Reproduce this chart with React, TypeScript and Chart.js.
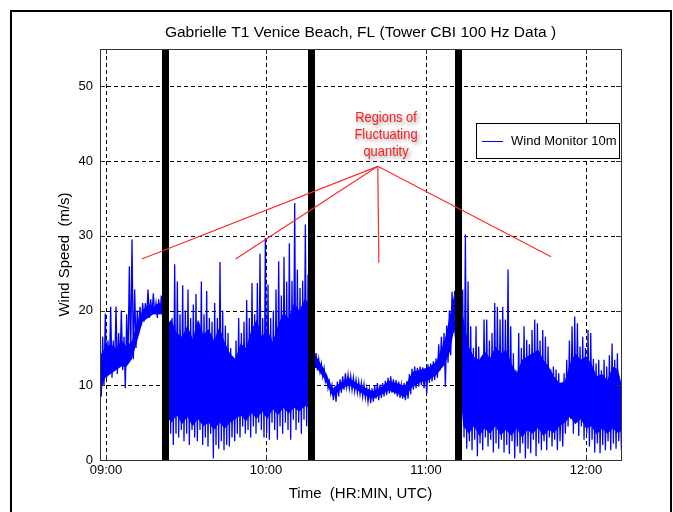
import React, { useEffect, useRef } from 'react';
import { Chart, registerables } from 'chart.js';

Chart.register(...registerables);

// ---------- text ----------
const chartTitle = 'Gabrielle T1 Venice Beach, FL (Tower CBI 100 Hz Data )';
const xAxisTitle = 'Time  (HR:MIN, UTC)';
const yAxisTitle = 'Wind Speed  (m/s)';
const seriesLabel = 'Wind Monitor 10m';
const annotationLines = ['Regions of', 'Fluctuating', 'quantity'];

// ---------- axes (x in minutes after 09:00 UTC, y in m/s) ----------
const xTickMinutes = [0, 60, 120, 180];
const xTickLabels = ['09:00', '10:00', '11:00', '12:00'];
const yTickValues = [0, 10, 20, 30, 40, 50];
const xMin = -2.25;
const xMax = 193.1;
const yMin = 0;
const yMax = 55;

// ---------- data: per-minute max / min of the 100 Hz record ----------
const firstMinute = -2.25;
// 08:58 - 09:21
const hiA = [15, 16.5, 19.6, 16, 20.5, 16, 20.5, 17, 20, 16.5, 19.5, 25.9, 29.5, 22.8, 20, 20.5, 21, 21, 22.8, 21.5, 22.3, 21, 21.5, 22];
const loA = [8.5, 10, 11, 11.5, 11, 12, 11.5, 12.5, 12, 9.6, 13, 13.5, 13.5, 15, 17, 18, 18.5, 19, 19, 19.5, 19.5, 19, 19.5, 19];
// 09:22 - 10:18
const hiB = [22, 20, 18, 19, 26.2, 23.9, 19.5, 23.4, 20, 22.8, 19, 20.8, 22.2, 18.5, 23.9, 19.5, 22.6, 19, 18.5, 21,
  19, 26.5, 20, 18, 17, 15, 13.5, 16, 19, 17, 18.5, 21.4, 19, 23.7, 19.5, 23.7, 27.6, 19, 29.7, 23.5,
  19, 20, 22.8, 26.6, 22, 27.2, 23.9, 29, 24, 34.4, 25.5, 23, 24, 31.5, 24.8, 16, 14.5];
const loB = [18, 6, 3.5, 2, 3.5, 3, 4, 2.5, 3.5, 2, 4, 3, 2.5, 4, 2, 3, 1.8, 3.5, 0.2, 2,
  1.5, 2.5, 1.3, 2, 1.8, 3, 2.5, 3.5, 3, 4.5, 3.5, 4, 3, 4.5, 3.5, 5, 4, 3, 3.5, 2.7,
  5, 4, 2.7, 4.5, 3.5, 5, 4, 2.7, 5.4, 4, 5, 3.5, 5.4, 4.5, 5, 12, 12.5];
// 10:19 - 11:13
const hiC = [14.3, 13.5, 12.9, 12.3, 11.2, 10.5, 10, 9.8, 10.5, 10.8, 11.2, 11.6, 11.4, 11.2, 11, 10.7, 10.5, 10.3, 10.1, 9.6,
  9.4, 9.6, 10, 10.3, 10.1, 10.3, 10.6, 11, 11.2, 10.8, 10.7, 10.5, 10, 10.3, 10.5, 11.5, 12.2, 12.5, 12.3, 12.5,
  12.4, 12.2, 12.8, 12.9, 13.2, 13.6, 15.5, 16.5, 17, 18, 20, 22.5, 22.6, 22, 24];
const loC = [12, 11.8, 11.2, 10.5, 9.6, 8.9, 8, 7.8, 8.5, 9, 9.4, 9.8, 9.6, 9.4, 9.2, 9, 8.8, 8.5, 8.3, 7.8,
  7.6, 7.8, 8.2, 8, 8.3, 8.5, 8.7, 8.9, 9, 8.8, 8.5, 8.3, 8.2, 8, 8.2, 8.8, 9.4, 9.6, 9.8, 10,
  9.6, 8.9, 10.3, 10.5, 10.7, 11, 12, 12.5, 9.8, 13, 14, 17, 18.5, 5, 3];
// 11:14 - 12:13
const hiD = [22.8, 30.2, 23.9, 17.9, 15, 17.9, 15.2, 13.8, 18.8, 18.8, 16, 17, 21, 20.5, 18.8, 20.5, 18.8, 25.5, 17.9, 14.3,
  12, 17, 15, 17.9, 16.1, 15.5, 17.4, 18.8, 18.3, 16, 17.4, 16.5, 15.2, 12.1, 12.5, 12.1, 11.6, 10.3, 11.6, 13.4,
  16, 17.9, 19.2, 18.3, 15.2, 16.5, 15, 17.4, 17, 13.5, 12.9, 13.4, 12, 13.4, 12.5, 14, 15.6, 13.4, 14.3, 9.4];
const loD = [3, 1.5, 2.5, 1.3, 2.7, 0.5, 2.2, 1.3, 3, 1.8, 2.7, 1, 2.2, 1.5, 2.7, 1, 2, 0.8, 2.5, 0.2,
  1.8, 0.9, 2.2, 0.2, 1.5, 0.9, 2.7, 0.5, 2.2, 1.3, 2.5, 1.3, 3, 1.8, 2.7, 1.3, 2.5, 1.8, 3.5, 4.5,
  5.5, 3.5, 5, 3.2, 4.5, 2.7, 3.5, 1.8, 2.7, 1, 2.2, 0.9, 2, 1.3, 2.5, 1.3, 2.2, 1.5, 2.5, 1.3];

// ---------- dense core of the trace (range holding nearly every sample) ----------
const coreMinA = [-2.25, -0.25, 1.75, 3.75, 5.75, 7.75, 9.75, 11.75, 13.75, 15.75, 17.75, 19.75, 21.5];
const coreTopA = [14, 15, 15.5, 15, 16, 15.2, 16, 18.5, 20, 20.8, 20.5, 21, 21];
const coreBotA = [9, 11, 11.5, 12, 12.5, 12.5, 13.5, 16, 18.5, 19, 19.5, 19.5, 19.5];

const coreMinB = [22.5, 24.5, 26.5, 28.5, 30.5, 32.5, 34.5, 36.5, 38.5, 40.5, 42.5, 44.5, 46.5, 48.5,
  50.5, 52.5, 54.5, 56.5, 58.5, 60.5, 62.5, 64.5, 66.5, 68.5, 70.5, 72.5, 74.5, 76.5];
const coreTopB = [18, 18.8, 17, 16.5, 18, 16.2, 18.8, 16.8, 17.5, 16, 17.8, 15.8, 14.3, 13.5,
  15.6, 15, 17.4, 18.8, 16.5, 17.5, 15.8, 18, 19.7, 19, 21, 20, 21.5, 21];
const coreBotB = [6, 5, 6, 4.8, 5.8, 4.5, 5.5, 4.5, 5, 4, 5, 4.2, 5, 5.5,
  6, 5.2, 6.3, 5.5, 6.5, 5.5, 6.8, 6, 7, 6.2, 7, 6.5, 7.2, 7];

const coreMinC = [77.5, 79, 82, 85, 88, 91, 94, 97, 100, 103, 106, 109, 112, 115, 118, 121, 124, 127, 129, 130.5];
const coreTopC = [13.8, 13.8, 12, 9.6, 10.4, 11, 10.3, 9.7, 9.2, 9.7, 10.6, 10.3, 9.9, 11.8, 12.1, 12.4, 13.2, 16, 19.5, 22];
const coreBotC = [12.3, 12.3, 10.8, 8.5, 9.4, 10, 9.4, 8.7, 8.2, 8.7, 9.3, 8.9, 8.4, 9.8, 10.4, 10.7, 11.4, 12.8, 14.5, 17.5];

const coreMinD = [134, 136, 138, 140, 142, 144, 146, 148, 150, 152, 154, 156, 158, 160, 162, 164, 166, 168, 170, 172,
  174, 176, 178, 180, 182, 184, 186, 188, 190, 192, 193.5];
const coreTopD = [19, 15.2, 13.8, 13.4, 14.6, 13.6, 15.2, 14.3, 14.8, 12.9, 11.6, 13.4, 13.9, 14.3, 14.8, 13.4, 12.5, 11.2, 10.3, 10.5,
  12.9, 14.3, 13.4, 13.9, 12.9, 11.2, 11.5, 10.7, 12.5, 12.1, 9.8];
const coreBotD = [4.5, 3.5, 4.5, 3.2, 4.2, 3.5, 4.5, 3.3, 4, 3.2, 4.2, 3, 4, 3.5, 4.3, 3.2, 4, 3.6, 4.5, 5,
  5.8, 4.8, 5.5, 4.2, 4.5, 3.4, 4.2, 3.5, 4.2, 3.6, 4];

// ---------- annotations (data coordinates) ----------
const boundaryMinutes = [22.3, 77.1, 132.2];
const annotationApex = { x: 101.9, y: 39.3 };
const annotationTargets = [
  { x: 13.4, y: 26.9 },
  { x: 48.6, y: 26.9 },
  { x: 102.3, y: 26.4 },
  { x: 166.9, y: 27.2 },
];
const annotationTextAnchor = { x: 105, y: 45.8 };

const hiValues = [...hiA, ...hiB, ...hiC, ...hiD];
const loValues = [...loA, ...loB, ...loC, ...loD];
const coreMinutes = [...coreMinA, ...coreMinB, ...coreMinC, ...coreMinD];
const coreTop = [...coreTopA, ...coreTopB, ...coreTopC, ...coreTopD];
const coreBottom = [...coreBotA, ...coreBotB, ...coreBotC, ...coreBotD];

function buildTrace() {
  const pts: { x: number; y: number }[] = [];
  hiValues.forEach((h, i) => {
    const t = firstMinute + i;
    pts.push({ x: t, y: h });
    pts.push({ x: t + 0.5, y: loValues[i] });
  });
  return pts;
}

function buildCore(vals: number[]) {
  return coreMinutes.map((m, i) => ({ x: m, y: vals[i] }));
}

const FONT = '"Liberation Sans", Arial, Helvetica, sans-serif';

const decorPlugin = {
  id: 'decor',
  beforeDatasetsDraw(chart: any) {
    const { ctx, chartArea: a, scales } = chart;
    const x = scales.x;
    const y = scales.y;
    ctx.save();
    ctx.strokeStyle = '#000';
    ctx.lineWidth = 1;
    ctx.setLineDash([4, 3]);
    xTickMinutes.forEach((v) => {
      const px = Math.round(x.getPixelForValue(v)) + 0.5;
      ctx.beginPath();
      ctx.moveTo(px, a.top);
      ctx.lineTo(px, a.bottom);
      ctx.stroke();
    });
    yTickValues.forEach((v) => {
      if (v === yMin) return;
      const py = Math.round(y.getPixelForValue(v)) + 0.5;
      ctx.beginPath();
      ctx.moveTo(a.left, py);
      ctx.lineTo(a.right, py);
      ctx.stroke();
    });
    ctx.setLineDash([]);
    ctx.restore();
  },
  afterDatasetsDraw(chart: any) {
    const { ctx, chartArea: a, scales } = chart;
    const x = scales.x;
    const y = scales.y;
    ctx.save();
    // thick boundary bars
    ctx.fillStyle = '#000';
    boundaryMinutes.forEach((m) => {
      const px = x.getPixelForValue(m);
      ctx.fillRect(Math.round(px - 3.5), a.top, 7, a.bottom - a.top);
    });
    // axes box
    ctx.strokeStyle = '#333';
    ctx.lineWidth = 1;
    ctx.strokeRect(Math.round(a.left) + 0.5, Math.round(a.top) + 0.5, Math.round(a.right - a.left), Math.round(a.bottom - a.top));
    // inward tick marks
    ctx.beginPath();
    xTickMinutes.forEach((v) => {
      const px = Math.round(x.getPixelForValue(v)) + 0.5;
      ctx.moveTo(px, a.bottom);
      ctx.lineTo(px, a.bottom - 5);
      ctx.moveTo(px, a.top);
      ctx.lineTo(px, a.top + 5);
    });
    yTickValues.forEach((v) => {
      const py = Math.round(y.getPixelForValue(v)) + 0.5;
      ctx.moveTo(a.left, py);
      ctx.lineTo(a.left + 5, py);
      ctx.moveTo(a.right, py);
      ctx.lineTo(a.right - 5, py);
    });
    ctx.stroke();

    // annotation lines
    const ax = x.getPixelForValue(annotationApex.x);
    const ay = y.getPixelForValue(annotationApex.y);
    ctx.strokeStyle = '#ff2a2a';
    ctx.lineWidth = 1.2;
    annotationTargets.forEach((t) => {
      ctx.beginPath();
      ctx.moveTo(ax, ay);
      ctx.lineTo(x.getPixelForValue(t.x), y.getPixelForValue(t.y));
      ctx.stroke();
    });
    // annotation text (condensed)
    const tx = x.getPixelForValue(annotationTextAnchor.x);
    const ty = y.getPixelForValue(annotationTextAnchor.y);
    ctx.save();
    ctx.translate(tx, ty);
    ctx.scale(0.86, 1);
    ctx.font = '15px ' + FONT;
    ctx.textAlign = 'center';
    ctx.textBaseline = 'middle';
    ctx.shadowColor = 'rgba(0,0,0,0.45)';
    ctx.shadowBlur = 4;
    ctx.shadowOffsetX = 2;
    ctx.shadowOffsetY = 2;
    ctx.fillStyle = '#ff1a1a';
    annotationLines.forEach((line, i) => {
      ctx.fillText(line, 0, i * 17);
    });
    ctx.restore();

    // legend
    const lw = 143;
    const lh = 35;
    const lx = Math.round(a.right) - 2 - lw;
    const ly = Math.round(a.top) + 74;
    ctx.fillStyle = '#fff';
    ctx.fillRect(lx, ly, lw, lh);
    ctx.strokeStyle = '#000';
    ctx.lineWidth = 1;
    ctx.strokeRect(lx + 0.5, ly + 0.5, lw, lh);
    ctx.strokeStyle = '#0000ff';
    ctx.beginPath();
    ctx.moveTo(lx + 6, ly + 18.5);
    ctx.lineTo(lx + 27, ly + 18.5);
    ctx.stroke();
    ctx.fillStyle = '#000';
    ctx.font = '13px ' + FONT;
    ctx.textAlign = 'left';
    ctx.textBaseline = 'middle';
    ctx.fillText(chart.data.datasets[0].label, lx + 35, ly + 18);
    ctx.restore();
  },
  afterDraw(chart: any) {
    const { ctx, chartArea: a } = chart;
    ctx.save();
    ctx.fillStyle = '#000';
    ctx.textAlign = 'center';
    ctx.textBaseline = 'middle';
    const cx = (a.left + a.right) / 2;
    ctx.font = '15.5px ' + FONT;
    ctx.fillText(chartTitle, cx, 33);
    ctx.font = '15px ' + FONT;
    ctx.fillText(xAxisTitle, cx, 494);
    ctx.save();
    ctx.translate(65, (a.top + a.bottom) / 2);
    ctx.rotate(-Math.PI / 2);
    ctx.fillText(yAxisTitle, 0, 0);
    ctx.restore();
    // outer figure frame
    ctx.strokeStyle = '#000';
    ctx.lineWidth = 2;
    ctx.strokeRect(11, 11, 660, 600);
    ctx.restore();
  },
};

export default function App() {
  const canvasRef = useRef<HTMLCanvasElement | null>(null);

  useEffect(() => {
    if (!canvasRef.current) return;
    const chart = new Chart(canvasRef.current, {
      type: 'line',
      data: {
        datasets: [
          {
            label: seriesLabel,
            data: buildTrace(),
            borderColor: '#0000ff',
            backgroundColor: '#0000ff',
            borderWidth: 1.3,
            pointRadius: 0,
            tension: 0,
            fill: false,
          },
          {
            label: 'core top',
            data: buildCore(coreTop),
            borderColor: '#0000ff',
            backgroundColor: '#0000ff',
            borderWidth: 0,
            pointRadius: 0,
            tension: 0,
            fill: '+1',
          },
          {
            label: 'core bottom',
            data: buildCore(coreBottom),
            borderColor: '#0000ff',
            backgroundColor: '#0000ff',
            borderWidth: 0,
            pointRadius: 0,
            tension: 0,
            fill: false,
          },
        ],
      },
      options: {
        animation: false,
        responsive: false,
        events: [],
        layout: { autoPadding: false, padding: { left: 0, right: 52, top: 49, bottom: 0 } },
        plugins: {
          legend: { display: false },
          title: { display: false },
          tooltip: { enabled: false },
        },
        scales: {
          x: {
            type: 'linear',
            min: xMin,
            max: xMax,
            afterBuildTicks: (s: any) => {
              s.ticks = xTickMinutes.map((v) => ({ value: v }));
            },
            afterFit: (s: any) => {
              s.height = 52;
            },
            ticks: {
              autoSkip: false,
              maxRotation: 0,
              padding: 3,
              color: '#000',
              font: { family: FONT, size: 13 },
              callback: (v: any) => {
                const i = xTickMinutes.indexOf(Number(v));
                return i >= 0 ? xTickLabels[i] : '';
              },
            },
            grid: { display: false, drawTicks: false },
            border: { display: false },
          },
          y: {
            type: 'linear',
            min: yMin,
            max: yMax,
            afterBuildTicks: (s: any) => {
              s.ticks = yTickValues.map((v) => ({ value: v }));
            },
            afterFit: (s: any) => {
              s.width = 100;
            },
            ticks: {
              padding: 7,
              color: '#000',
              font: { family: FONT, size: 13 },
            },
            grid: { display: false, drawTicks: false },
            border: { display: false },
          },
        },
      },
      plugins: [decorPlugin],
    });
    return () => chart.destroy();
  }, []);

  return (
    <div style={{ position: 'fixed', left: 0, top: 0, width: 673, height: 512, background: '#fff' }}>
      <canvas ref={canvasRef} width={673} height={512} style={{ display: 'block' }} />
    </div>
  );
}
